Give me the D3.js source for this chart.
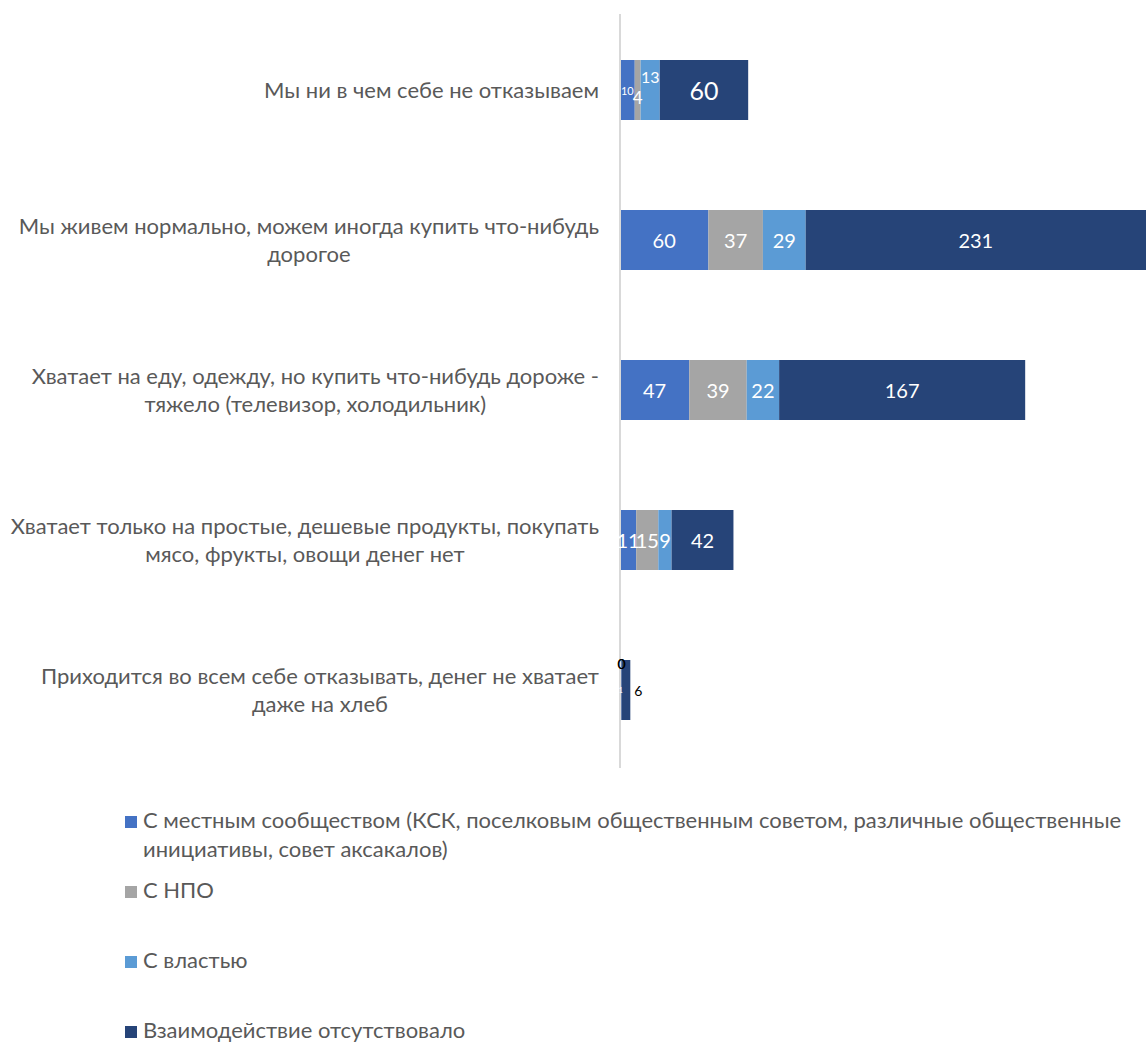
<!DOCTYPE html>
<html>
<head>
<meta charset="utf-8">
<script src="https://cdn.jsdelivr.net/npm/d3@7"></script>
<style>
  body { margin: 0; background: #fff; }
  svg { display: block; }
  text { font-family: Lato, "Open Sans", sans-serif; }
</style>
</head>
<body>
<script>
// categories, top to bottom
var categories = [
  "Мы ни в чем себе не отказываем",
  "Мы живем нормально, можем иногда купить что-нибудь дорогое",
  "Хватает на еду, одежду, но купить что-нибудь дороже - тяжело (телевизор, холодильник)",
  "Хватает только на простые, дешевые продукты, покупать мясо, фрукты, овощи денег нет",
  "Приходится во всем себе отказывать, денег не хватает даже на хлеб"
]

var seriesNames = [
  "С местным сообществом (КСК, поселковым общественным советом, различные общественные инициативы, совет аксакалов)",
  "С НПО",
  "С властью",
  "Взаимодействие отсутствовало"
]

var community = [10, 60, 47, 11, 1]
var npo       = [4, 37, 39, 15, 0]
var authority = [13, 29, 22, 9, 0]
var none      = [60, 231, 167, 42, 6]

var colors = ["#4472C4", "#A5A5A5", "#5B9BD5", "#264478"]

var W = 1146, H = 1050
var x0 = 620
var FONT = 22, LABEL = 20

var svg = d3.select("body").append("svg").attr("width", W).attr("height", H)

var data = categories.map(function(c, i){
  return {cat: c, v: [community[i], npo[i], authority[i], none[i]]}
})

var stack = d3.stack().keys([0,1,2,3]).value(function(d, k){ return d.v[k] })
var layers = stack(data)

var x = d3.scaleLinear()
  .domain([0, d3.max(data, function(d){ return d3.sum(d.v) })])
  .range([x0, W])

var y = d3.scaleBand()
  .domain(categories)
  .range([15, 765])
  .paddingInner(0.6)
  .paddingOuter(0.3)

// bars
var g = svg.selectAll("g.layer").data(layers).enter().append("g")
  .attr("class", "layer")
  .attr("fill", function(d, i){ return colors[i] })

g.selectAll("rect").data(function(d){ return d }).enter().append("rect")
  .attr("x", function(d){ return x(d[0]) })
  .attr("y", function(d){ return y(d.data.cat) })
  .attr("width", function(d){ return x(d[1]) - x(d[0]) })
  .attr("height", y.bandwidth())

// vertical axis line
svg.append("g").attr("transform", `translate(${x0},0)`)
  .call(d3.axisLeft(y).tickSize(0).tickFormat(""))
  .call(function(a){ a.select(".domain").attr("stroke", "#d9d9d9").attr("stroke-width", 2).attr("d", "M0,14V768") })

// data labels (small ones in the top bar are shrunk / nudged like the original)
layers.forEach(function(layer, k){
  layer.forEach(function(d, i){
    var val = d.data.v[k]
    var wpx = x(d[1]) - x(d[0])
    var cx = (x(d[0]) + x(d[1])) / 2
    var cy = y(d.data.cat) + y.bandwidth() / 2
    var fs = LABEL, fill = "#fff"
    if (i === 0) {
      fs = [11, 17, 16, 25][k]
      cy += [0, 7, -14, 0][k]
    } else if (wpx < 3) {
      if (val === 0) { fill = "#000"; fs = 14; cy = cy - 27 }
      else { fs = 7 }
    } else if (wpx < 12) {
      fill = "#000"; fs = 14; cx = x(d[1]) + 8
    }
    svg.append("text")
      .attr("x", cx).attr("y", cy)
      .attr("text-anchor", "middle")
      .attr("dominant-baseline", "central")
      .attr("font-size", fs)
      .attr("fill", fill)
      .text(val)
  })
})

// wrap text helper, returns lines and their widths
function wrap(textSel, width) {
  var words = textSel.text().split(/\s+/)
  var lines = [], line = []
  textSel.text(null)
  var t = textSel.append("tspan")
  words.forEach(function(w){
    line.push(w)
    t.text(line.join(" "))
    if (t.node().getComputedTextLength() > width && line.length > 1) {
      line.pop()
      lines.push(line.join(" "))
      line = [w]
    }
    t.text(line.join(" "))
  })
  lines.push(line.join(" "))
  var widths = lines.map(function(l){ t.text(l); return t.node().getComputedTextLength() })
  textSel.text(null)
  return {lines: lines, maxW: d3.max(widths)}
}

// category labels: block right-aligned to axis, lines centred inside it
categories.forEach(function(c){
  var t = svg.append("text")
    .attr("font-size", FONT)
    .attr("fill", "#595959")
    .attr("text-anchor", "middle")
    .text(c)
  var w = wrap(t, 592)
  var lh = 28
  var cx = 599 - w.maxW / 2
  var cy = y(c) + y.bandwidth() / 2 - (w.lines.length - 1) * lh / 2
  w.lines.forEach(function(l, j){
    t.append("tspan")
      .attr("x", cx)
      .attr("y", cy + j * lh)
      .attr("dy", "0.35em")
      .text(l)
  })
})

// legend
var legY = [822, 892, 962, 1032]
seriesNames.forEach(function(s, i){
  svg.append("rect")
    .attr("x", 125).attr("y", legY[i] - 6)
    .attr("width", 12).attr("height", 12)
    .attr("fill", colors[i])
  var t = svg.append("text")
    .attr("font-size", FONT)
    .attr("fill", "#595959")
    .text(s)
  var w = wrap(t, 990)
  w.lines.forEach(function(l, j){
    t.append("tspan")
      .attr("x", 143)
      .attr("y", legY[i] - 2 + j * 29)
      .attr("dy", "0.35em")
      .text(l)
  })
})
</script>
</body>
</html>
